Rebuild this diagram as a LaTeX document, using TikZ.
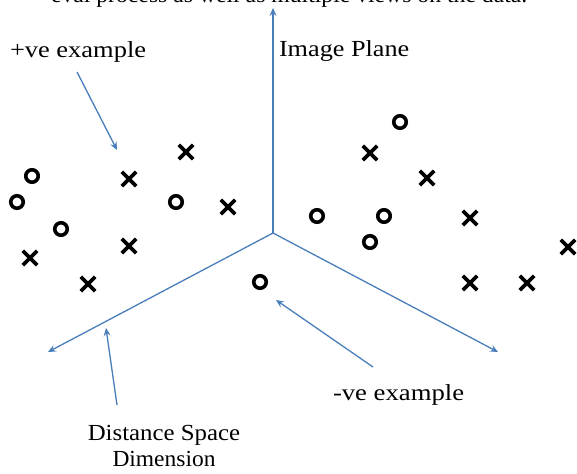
\documentclass[tikz,border=0pt]{standalone}
\usepackage{fontspec}
\setmainfont{Liberation Serif}
\usetikzlibrary{arrows.meta,shapes.misc}
\definecolor{axisblue}{HTML}{4A7EBB}
\tikzset{
  axisline/.style={draw=axisblue, line width=1.3pt, -{Stealth[length=8pt,width=7pt,inset=3pt]}},
  label/.style={inner sep=0pt, outer sep=0pt, anchor=base west, font=\fontsize{23}{26}\selectfont},
  clabel/.style={inner sep=0pt, outer sep=0pt, anchor=base, font=\fontsize{23}{26}\selectfont},
  omark/.style={circle, draw=black, line width=3.6pt, minimum size=12.5pt, inner sep=0pt},
  xmark/.style={cross out, draw=black, line width=3.8pt, minimum size=10.5pt, inner sep=0pt},
}
\begin{document}
\begin{tikzpicture}[x=1pt,y=-1pt]
\fill[white] (0,0) rectangle (577,473);
\useasboundingbox (0,0) rectangle (577,473);

% cut-off line of text at the top (the reference shows only its lower edge)
\begin{scope}
\clip (0,0) rectangle (577,473);
\node[label] (topline) at (51,3) {\scalebox{1.03}[1]{eval process as well as multiple views on the data.}};
\end{scope}

% axes
\coordinate (O) at (273,233);
\coordinate (up) at (273,8);
\coordinate (dl) at (48,352);
\coordinate (dr) at (498,352);
\draw[axisline] (O) -- (up);
\draw[axisline] (O) -- (dl);
\draw[axisline] (O) -- (dr);

% labels
\node[label] (pos) at (10,58) {\scalebox{1.15}[1]{+ve example}};
\node[label] (img) at (279,57) {\scalebox{1.14}[1]{Image Plane}};
\node[label] (neg) at (333,400) {\scalebox{1.16}[1]{-ve example}};
\node[clabel] (dist1) at (164,440) {\scalebox{1.08}[1]{Distance Space}};
\node[clabel] (dist2) at (164,466) {\scalebox{1.02}[1]{Dimension}};

% label arrows
\coordinate (posA) at (77,72);
\coordinate (posB) at (117,150);
\draw[axisline] (posA) -- (posB);
\coordinate (negA) at (373,367);
\coordinate (negB) at (276,300);
\draw[axisline] (negA) -- (negB);
\coordinate (distA) at (117,405);
\coordinate (distB) at (106,328);
\draw[axisline] (distA) -- (distB);

% left cluster
\node[omark] (o1) at (32,176) {};
\node[omark] (o2) at (17,202) {};
\node[omark] (o3) at (61,229) {};
\node[omark] (o4) at (176,202) {};
\node[omark] (o5) at (260,282) {};
\node[xmark] (x1) at (30,258) {};
\node[xmark] (x2) at (88,284) {};
\node[xmark] (x3) at (129,179) {};
\node[xmark] (x4) at (129,246) {};
\node[xmark] (x5) at (186,152) {};
\node[xmark] (x6) at (228,207) {};

% right cluster
\node[omark] (o6) at (400,122) {};
\node[omark] (o7) at (317,216) {};
\node[omark] (o8) at (384,216) {};
\node[omark] (o9) at (370,242) {};
\node[xmark] (x7) at (370,153) {};
\node[xmark] (x8) at (427,178) {};
\node[xmark] (x9) at (470,218) {};
\node[xmark] (x10) at (568,247) {};
\node[xmark] (x11) at (470,283) {};
\node[xmark] (x12) at (527,283) {};
\end{tikzpicture}
\end{document}
